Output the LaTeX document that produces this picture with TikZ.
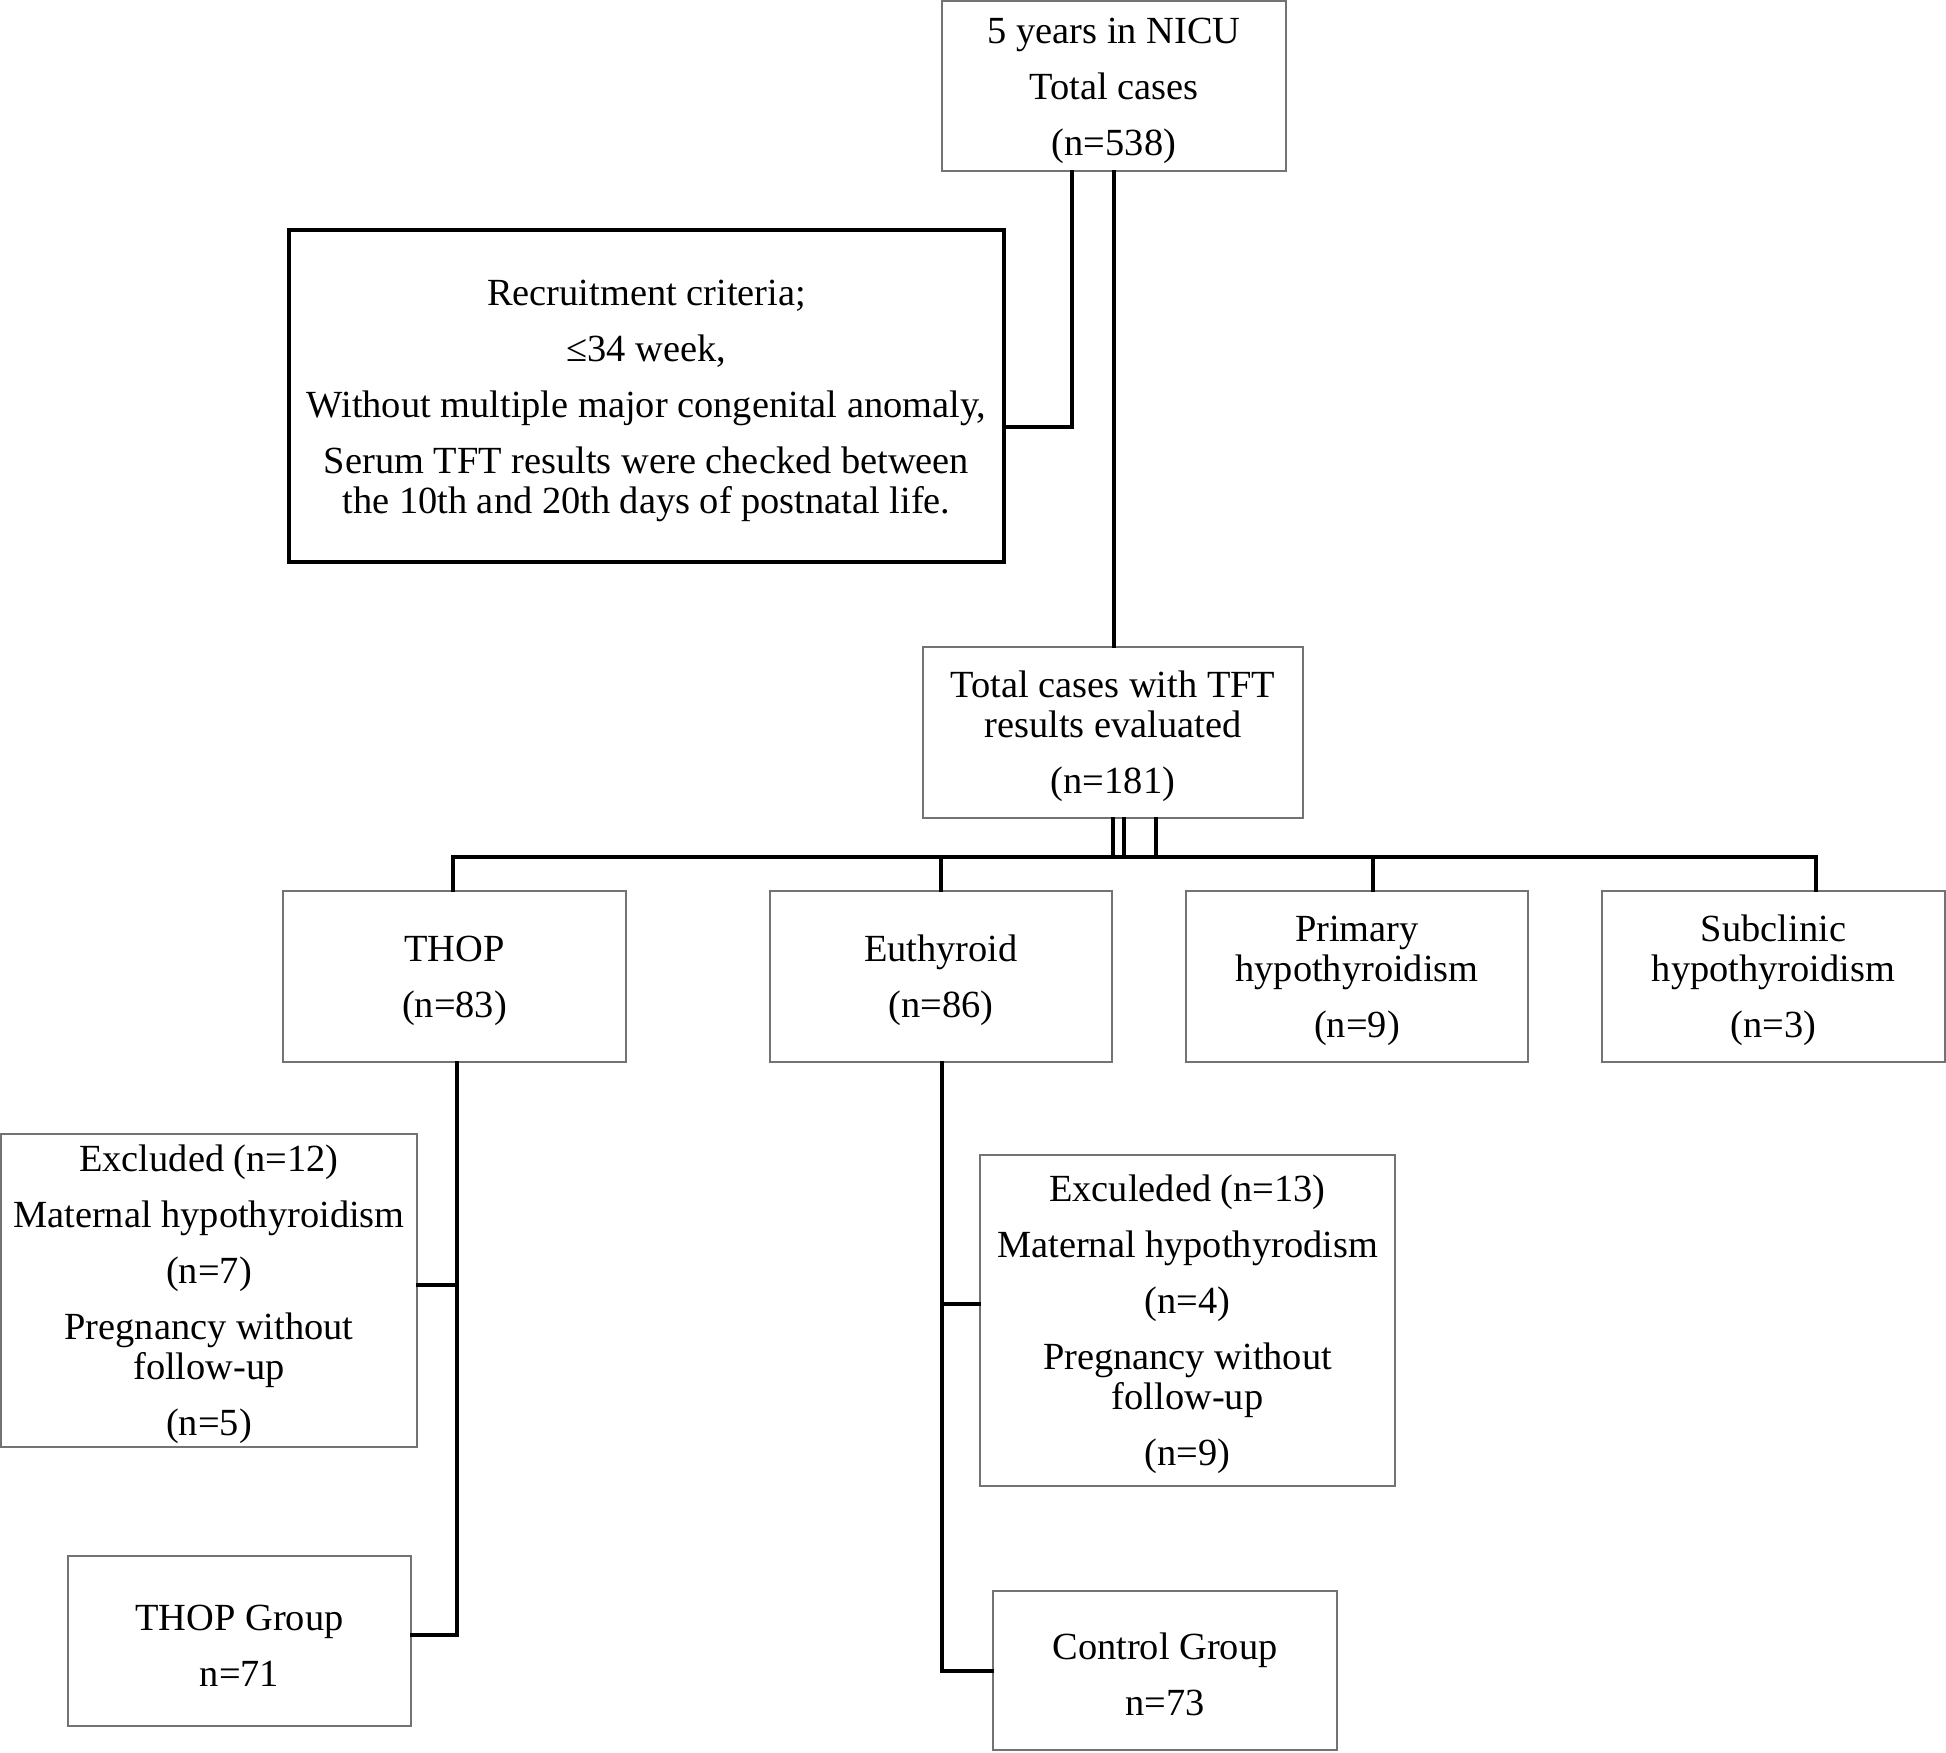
\documentclass[tikz,border=0pt]{standalone}
\usepackage{fontspec}
\setmainfont{Liberation Serif}
\newcommand\fstrut{\rule{0pt}{35pt}}
\begin{document}
\begin{tikzpicture}[x=1pt,y=-1pt,
  box/.style={draw=black!55, line width=1.6pt, inner sep=0pt, align=center,
    font=\fontsize{38.4}{40}\selectfont, fill=white},
  thickbox/.style={box, draw=black, line width=4pt},
  conn/.style={draw=black, line width=4pt, line cap=rect, line join=miter}]
\fill[white] (0,0) rectangle (1946,1753);
\useasboundingbox (0,0) rectangle (1946,1753);

% nodes
\node[box, minimum width=344pt, minimum height=170pt] (top) at (1114,86)
  {\fstrut 5 years in NICU\\[16pt]Total cases\\[16pt](n=538)};
\node[thickbox, minimum width=715pt, minimum height=332pt] (recruit) at (646.5,396)
  {\fstrut Recruitment criteria;\\[16pt]≤34 week,\\[16pt]Without multiple major congenital anomaly,\\[16pt]Serum TFT results were checked between\\the 10th and 20th days of postnatal life.};
\node[box, minimum width=380pt, minimum height=171pt] (tft) at (1113,732.5)
  {\fstrut Total cases with TFT\\results evaluated\\[16pt](n=181)};
\node[box, minimum width=343pt, minimum height=171pt] (thop) at (454.5,976.5)
  {\fstrut THOP\\[16pt](n=83)};
\node[box, minimum width=342pt, minimum height=171pt] (euth) at (941,976.5)
  {\fstrut Euthyroid\\[16pt](n=86)};
\node[box, minimum width=342pt, minimum height=171pt] (prim) at (1357,976.5)
  {\fstrut Primary\\hypothyroidism\\[16pt](n=9)};
\node[box, minimum width=343pt, minimum height=171pt] (sub) at (1773.5,976.5)
  {\fstrut Subclinic\\hypothyroidism\\[16pt](n=3)};
\node[box, minimum width=416pt, minimum height=313pt] (excl1) at (209,1290.5)
  {\fstrut Excluded (n=12)\\[16pt]Maternal hypothyroidism\\[16pt](n=7)\\[16pt]Pregnancy without\\follow-up\\[16pt](n=5)};
\node[box, minimum width=343pt, minimum height=170pt] (thopg) at (239.5,1641)
  {\fstrut THOP Group\\[16pt]n=71};
\node[box, minimum width=415pt, minimum height=331pt] (excl2) at (1187.5,1320.5)
  {\fstrut Exculeded (n=13)\\[16pt]Maternal hypothyrodism\\[16pt](n=4)\\[16pt]Pregnancy without\\follow-up\\[16pt](n=9)};
\node[box, minimum width=344pt, minimum height=159pt] (ctrl) at (1165,1670.5)
  {\fstrut Control Group\\[16pt]n=73};

% junction coordinates
\coordinate (j1) at (1072,427);
\coordinate (busL) at (453,857);
\coordinate (busE) at (941,857);
\coordinate (busP) at (1373,857);
\coordinate (busR) at (1816,857);
\coordinate (tb) at (457,1285);
\coordinate (tv) at (457,1635);
\coordinate (eb) at (942,1304);
\coordinate (ev) at (942,1671);

% connectors
\draw[conn] ([xshift=-42pt]top.south) -- (j1) -- (j1 -| recruit.east);
\draw[conn] (top.south) -- (top.south |- tft.north);
\draw[conn] (tft.south) -- (tft.south |- busL);
\draw[conn] ([xshift=11pt]tft.south) -- ([xshift=11pt]tft.south |- busL);
\draw[conn] ([xshift=43pt]tft.south) -- ([xshift=43pt]tft.south |- busL);
\draw[conn] (busL) -- (busR);
\draw[conn] (busL) -- (busL |- thop.north);
\draw[conn] (busE) -- (busE |- euth.north);
\draw[conn] (busP) -- (busP |- prim.north);
\draw[conn] (busR) -- (busR |- sub.north);
\draw[conn] (tv |- thop.south) -- (tv) -- (tv -| thopg.east);
\draw[conn] (tb) -- (tb -| excl1.east);
\draw[conn] (ev |- euth.south) -- (ev) -- (ev -| ctrl.west);
\draw[conn] (eb) -- (eb -| excl2.west);
\end{tikzpicture}
\end{document}
